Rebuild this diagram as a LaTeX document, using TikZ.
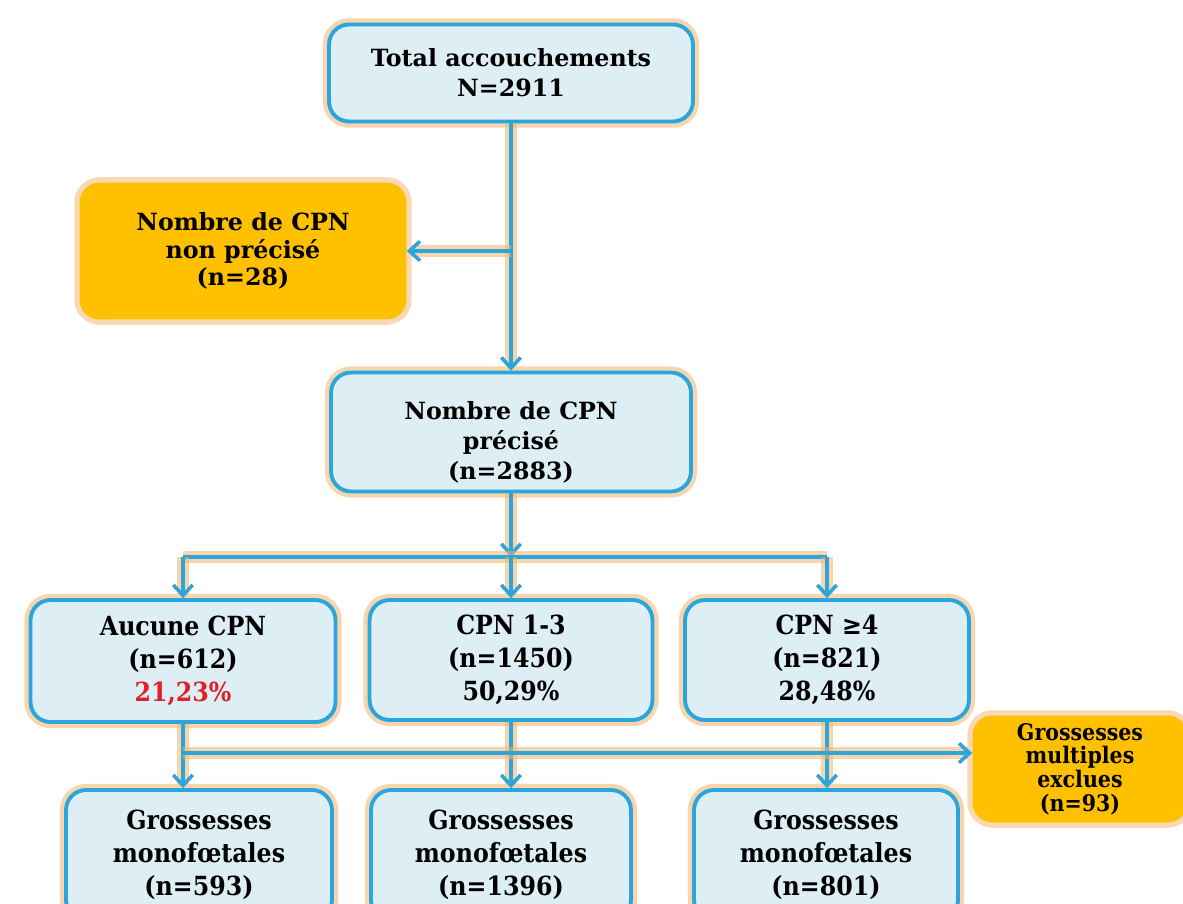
\documentclass[tikz,border=0pt]{standalone}
\usepackage{fontspec}
\usetikzlibrary{arrows.meta}
\setmainfont{DejaVu Serif}
\newfontfamily\condfont{DejaVu Serif Condensed}
\definecolor{flowblue}{HTML}{2AA6DC}
\definecolor{boxfill}{HTML}{DDEEF4}
\definecolor{glow}{HTML}{F4B36A}
\definecolor{boxorange}{HTML}{FFC000}
\definecolor{pctred}{HTML}{E0202A}
\tikzset{
  glowline/.style={preaction={draw=glow, line width=+7pt, opacity=0.55}},
  bluebox/.style={draw=flowblue, line width=+2.2pt, fill=boxfill, rounded corners=+0.4cm,
    align=center, font=\bfseries\fontsize{13.5}{17}\selectfont, glowline},
  lowbox/.style={bluebox, font=\condfont\bfseries\fontsize{15}{18.7}\selectfont},
  orangebox/.style={fill=boxorange, rounded corners=+0.4cm, align=center,
    preaction={draw=glow, line width=+6pt, opacity=0.5}},
  flow/.style={draw=flowblue, line width=+2.6pt, glowline},
  flowarrow/.style={flow, -{Straight Barb[length=+6pt, width=+11pt, line width=+2pt]}}
}
\begin{document}
\begin{tikzpicture}[x=0.02cm, y=-0.02cm]
  \clip (0,0) rectangle (1183,903);
  \fill[white] (0,0) rectangle (1183,903);

  % boxes of the main column
  \node[bluebox, minimum width=7.28cm, minimum height=1.94cm] (total) at (511,73)
    {Total accouchements\\N=2911};
  \node[orangebox, minimum width=6.54cm, minimum height=2.74cm,
    font=\bfseries\fontsize{13.5}{15.5}\selectfont] (nonprec) at (243,251)
    {Nombre de CPN\\non précisé\\(n=28)};
  \node[bluebox, minimum width=7.2cm, minimum height=2.38cm] (prec) at (511,432)
    {\rule{0pt}{22pt}Nombre de CPN\\précisé\\(n=2883)};

  % groups by number of CPN
  \node[lowbox, minimum width=6.1cm, minimum height=2.44cm] (aucune) at (183,661)
    {Aucune CPN\\(n=612)\\\textcolor{pctred}{21,23\%}};
  \node[lowbox, minimum width=5.66cm, minimum height=2.4cm] (cpnmid) at (511,660)
    {CPN 1-3\\(n=1450)\\50,29\%};
  \node[lowbox, minimum width=5.68cm, minimum height=2.4cm] (cpnhigh) at (827,660)
    {CPN ≥4\\(n=821)\\28,48\%};

  % singleton pregnancies
  \node[lowbox, minimum width=5.32cm, minimum height=2.6cm] (monoA) at (199,855)
    {Grossesses\\monofœtales\\(n=593)};
  \node[lowbox, minimum width=5.2cm, minimum height=2.6cm] (monoB) at (501,855)
    {Grossesses\\monofœtales\\(n=1396)};
  \node[lowbox, minimum width=5.28cm, minimum height=2.6cm] (monoC) at (826,855)
    {Grossesses\\monofœtales\\(n=801)};
  \node[orangebox, minimum width=4.3cm, minimum height=2.14cm,
    font=\condfont\bfseries\fontsize{13}{13.4}\selectfont] (multi) at (1080,769)
    {Grossesses\\multiples\\exclues\\(n=93)};

  % connectors
  \coordinate (split) at (total.south |- nonprec.east);
  \coordinate (branch) at (511,557);
  \coordinate (branchL) at (aucune.north |- branch);
  \coordinate (branchR) at (cpnhigh.north |- branch);
  \coordinate (lowL) at (183,753);
  \draw[flowarrow] (total.south) -- (prec.north);
  \draw[flowarrow] (split) -- (nonprec.east);
  \draw[flowarrow] (prec.south) -- (branch);
  \draw[flow] (branchL) -- (branchR);
  \draw[flowarrow] (branchL) -- (aucune.north);
  \draw[flowarrow] (branch) -- (cpnmid.north);
  \draw[flowarrow] (branchR) -- (cpnhigh.north);
  \draw[flowarrow] (aucune.south) -- (aucune.south |- monoA.north);
  \draw[flowarrow] (cpnmid.south) -- (cpnmid.south |- monoB.north);
  \draw[flowarrow] (cpnhigh.south) -- (cpnhigh.south |- monoC.north);
  \draw[flowarrow] (lowL) -- (multi.west |- lowL);
\end{tikzpicture}
\end{document}
